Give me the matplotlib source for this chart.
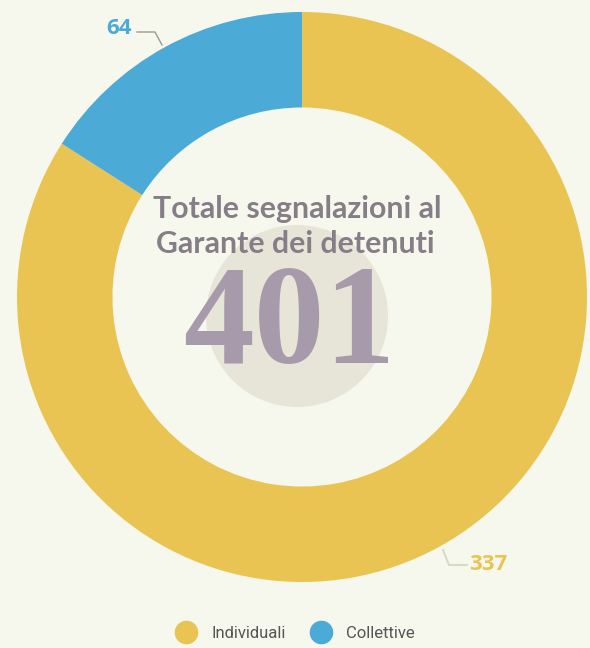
import matplotlib.pyplot as plt
from matplotlib.lines import Line2D
from matplotlib.patches import Circle

# dati
categorie = ["Individuali", "Collettive"]
valori = [337, 64]
colori = ["#e9c452", "#4caad7"]
totale = sum(valori)
titolo = "Totale segnalazioni al\nGarante dei detenuti"

sfondo = "#f7f8ed"

# conversione pixel -> coordinate dati (centro della ciambella a 302,297; raggio 285 px)
CX, CY, R = 302, 297, 285


def px(x, y):
    return (x - CX) / R, (CY - y) / R


fig = plt.figure(figsize=(5.9, 6.48), dpi=100, facecolor=sfondo)
ax = fig.add_axes([0, 0, 1, 1])
ax.set_facecolor(sfondo)

ax.pie(valori, colors=colori, startangle=90, counterclock=False, radius=1,
       wedgeprops=dict(width=0.335, edgecolor="none"))

ax.set_xlim((0 - CX) / R, (590 - CX) / R)
ax.set_ylim((CY - 648) / R, CY / R)
ax.set_aspect("auto")
ax.axis("off")

# cerchio grigio dietro al totale
ax.add_patch(Circle(px(297, 316), 91 / R, facecolor="#e7e4d8", edgecolor="none", zorder=3))

# testo centrale
righe = titolo.split("\n")
ax.text(*px(297.5, 218), righe[0], ha="center", va="baseline", fontsize=21.8,
        fontweight="bold", family="Lato", color="#867e87", zorder=4)
ax.text(*px(295, 253), righe[1], ha="center", va="baseline", fontsize=21.8,
        fontweight="bold", family="Lato", color="#867e87", zorder=4)
ax.text(*px(289, 363), str(totale), ha="center", va="baseline", fontsize=102,
        fontweight="bold", family="Liberation Serif", color="#a79aab", zorder=4)

# etichette con linee guida
ax.plot(*zip(px(137, 32), px(155, 32), px(162, 45)), color="#9a9a90", lw=1, zorder=5)
ax.text(*px(132, 28), str(valori[1]), ha="right", va="center", fontsize=16,
        fontweight="bold", family="Open Sans", color=colori[1])
ax.plot(*zip(px(443, 550), px(449, 565), px(467, 565)), color="#d9dac2", lw=1.5, zorder=5)
ax.text(*px(469, 564), str(valori[0]), ha="left", va="center", fontsize=16,
        fontweight="bold", family="Open Sans", color=colori[0])

# legenda
maniglie = [Line2D([], [], marker="o", ls="none", markersize=16, color=c) for c in colori]
fig.legend(maniglie, categorie, loc="center", bbox_to_anchor=(0.495, 1 - 633 / 648),
           ncol=2, frameon=False, handletextpad=0.5, columnspacing=1.1,
           prop=dict(family="Roboto", size=12), labelcolor="#555555")

plt.savefig("out.png", dpi=100, facecolor=sfondo)
